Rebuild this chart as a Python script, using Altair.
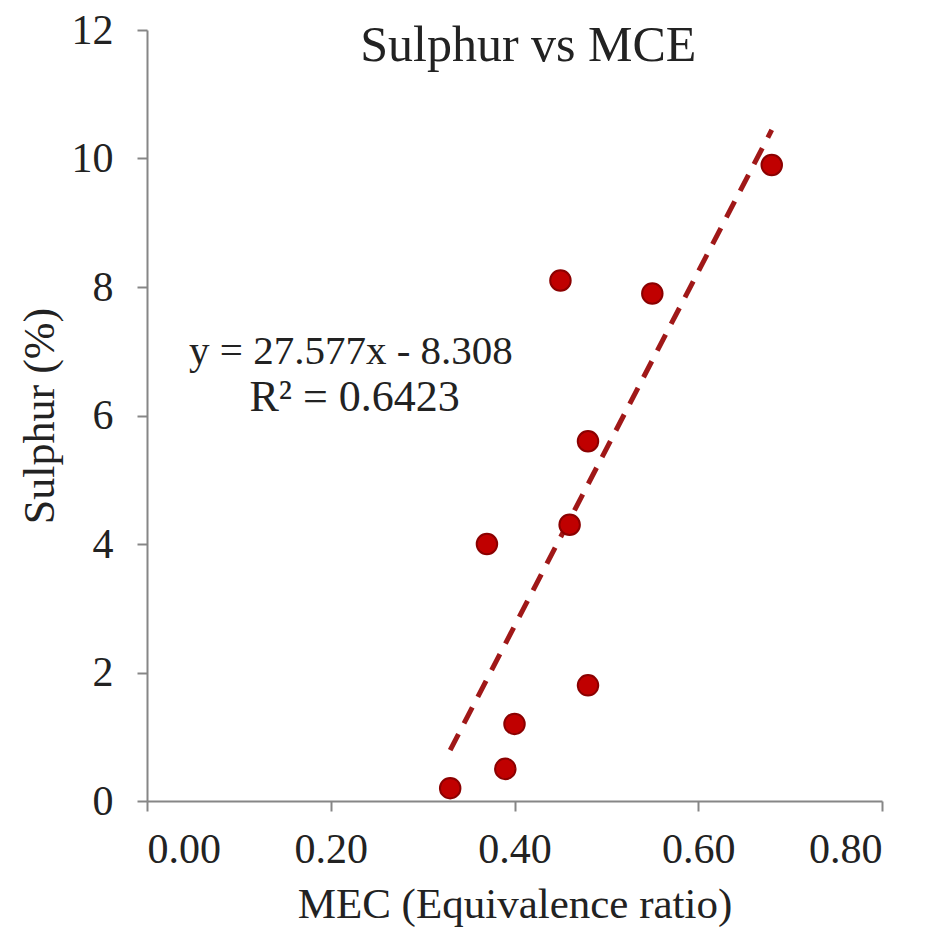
import altair as alt
import pandas as pd

mec = [0.33, 0.37, 0.39, 0.40, 0.45, 0.46, 0.48, 0.48, 0.55, 0.68]
sulphur = [0.2, 4.0, 0.5, 1.2, 8.1, 4.3, 5.6, 1.8, 7.9, 9.9]

ann_x = [0.415, 0.222, 0.226]
ann_y = [11.75, 6.99, 6.27]
ann_text = ["Sulphur vs MCE", "y = 27.577x - 8.308", "R² = 0.6423"]
ann_size = [50, 41, 44]

df = pd.DataFrame({"x": mec, "y": sulphur})
ann = pd.DataFrame({"x": ann_x, "y": ann_y, "t": ann_text, "s": ann_size})

FONT = "Liberation Serif"
xs = alt.Scale(domain=[0, 0.8], nice=False, zero=True)
ys = alt.Scale(domain=[0, 12], nice=False)

xaxis = alt.Axis(values=[0, 0.2, 0.4, 0.6, 0.8], format=".2f", grid=False,
                 title="MEC (Equivalence ratio)", titlePadding=13, labelPadding=18,
                 titleFontSize=43)
yaxis = alt.Axis(values=[0, 2, 4, 6, 8, 10, 12], format="d", grid=False,
                 title="Sulphur (%)", titlePadding=9, labelPadding=24,
                 titleFontSize=44)

points = alt.Chart(df).mark_circle(size=420, color="#C00000", opacity=1,
                                   stroke="#8B0000", strokeWidth=2).encode(
    x=alt.X("x:Q", scale=xs, axis=xaxis),
    y=alt.Y("y:Q", scale=ys, axis=yaxis),
)

trend = alt.Chart(df).transform_regression("x", "y", extent=[0.33, 0.68]).mark_line(
    color="#A01818", strokeWidth=5, strokeDash=[18, 12]
).encode(x=alt.X("x:Q", scale=xs), y=alt.Y("y:Q", scale=ys))

texts = alt.Chart(ann).mark_text(font=FONT, color="#222222",
                                 align="center", baseline="middle").encode(
    x=alt.X("x:Q", scale=xs), y=alt.Y("y:Q", scale=ys), text="t:N",
    size=alt.Size("s:Q", scale=None, legend=None),
)

chart = alt.layer(trend, points, texts).properties(
    width=735, height=771,
    background="white",
    autosize=alt.AutoSizeParams(type="none"),
    padding={"left": 147, "top": 30, "right": 46, "bottom": 131},
).configure_view(stroke=None).configure_axis(
    domainColor="#868686", tickColor="#868686", domainWidth=2, tickWidth=2,
    tickSize=10, labelFont=FONT, labelFontSize=42, labelColor="#222222",
    titleFont=FONT, titleFontWeight="normal", titleColor="#222222",
)

chart.save("out.html", embed_options={"renderer": "svg", "actions": False})
